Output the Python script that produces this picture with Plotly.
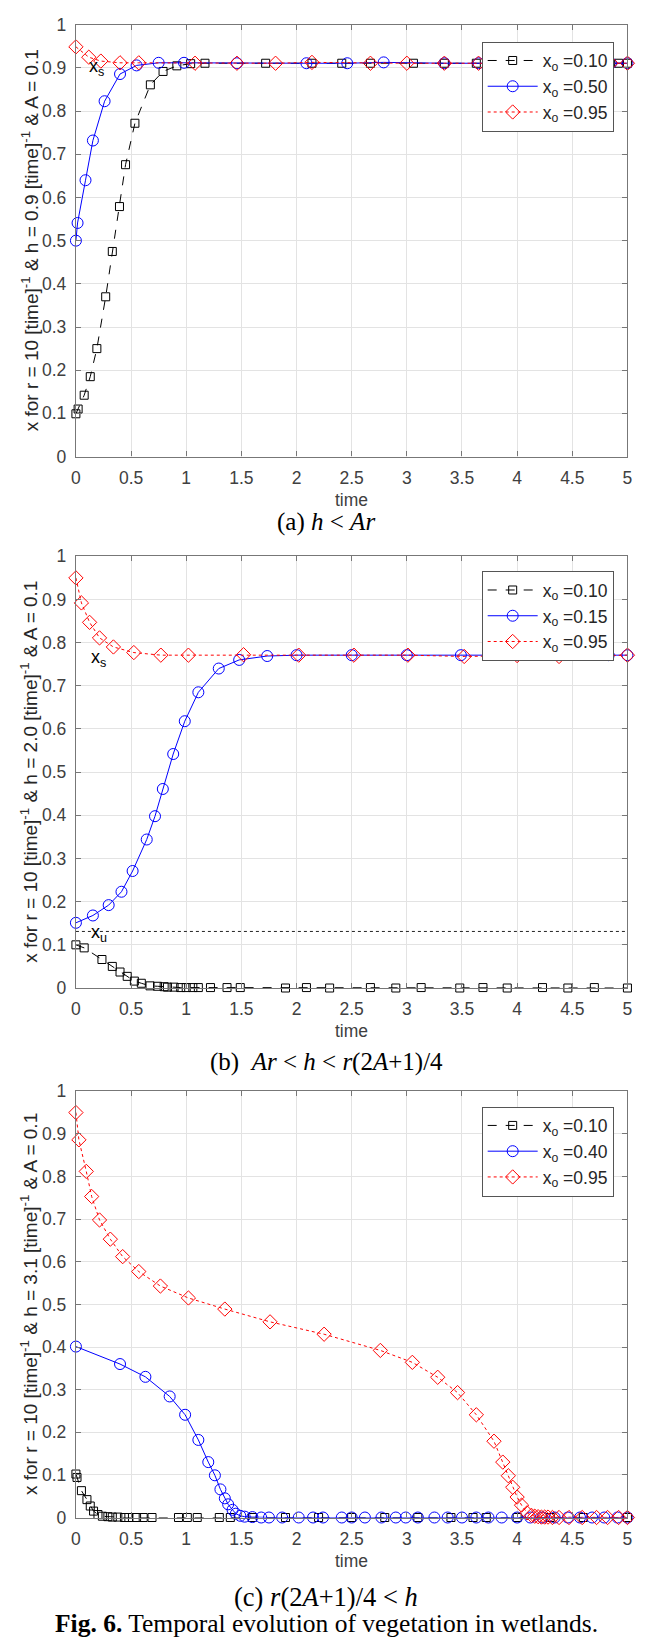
import plotly.graph_objects as go

# ---------------- data ----------------
# Panel (a): h = 0.9
a_t_010 = [0, 0.02, 0.075, 0.13, 0.19, 0.27, 0.33, 0.395, 0.45, 0.535, 0.675, 0.79, 0.915, 1.04, 1.17,
           1.72, 2.14, 2.41, 2.67, 3.06, 3.34, 3.63, 4.0, 4.4, 4.92, 5.0]
a_x_010 = [0.099, 0.11, 0.142, 0.185, 0.25, 0.37, 0.475, 0.579, 0.676, 0.772, 0.861, 0.892, 0.905, 0.910, 0.911,
           0.911, 0.911, 0.911, 0.911, 0.911, 0.911, 0.911, 0.911, 0.911, 0.911, 0.911]
a_t_050 = [0, 0.015, 0.087, 0.154, 0.26, 0.40, 0.55, 0.75, 0.98, 1.46, 2.09, 2.46, 2.79, 3.34, 3.65, 4.2, 4.85, 5.0]
a_x_050 = [0.5, 0.541, 0.64, 0.732, 0.823, 0.886, 0.906, 0.912, 0.912, 0.911, 0.911, 0.911, 0.913, 0.911, 0.911,
           0.911, 0.911, 0.911]
a_t_095 = [0, 0.117, 0.226, 0.40, 0.57, 1.08, 1.46, 1.81, 2.14, 2.67, 3.0, 3.34, 3.65, 4.2, 4.85, 5.0]
a_x_095 = [0.949, 0.925, 0.916, 0.912, 0.912, 0.911, 0.911, 0.911, 0.913, 0.911, 0.911, 0.911, 0.911, 0.911,
           0.911, 0.911]

# Panel (b): h = 2.0
b_t_010 = [0, 0.075, 0.236, 0.33, 0.40, 0.465, 0.53, 0.593, 0.672, 0.74, 0.80, 0.83, 0.89, 0.95, 1.0, 1.06,
           1.11, 1.22, 1.37, 1.49, 1.9, 2.09, 2.3, 2.67, 2.9, 3.13, 3.48, 3.69, 3.91, 4.23, 4.46, 4.7, 5.0]
b_x_010 = [0.10, 0.093, 0.066, 0.05, 0.037, 0.027, 0.016, 0.011, 0.005, 0.004, 0.003, 0.002, 0.002, 0.001,
           0.001, 0.001, 0.001, 0.001, 0.001, 0.001, 0.0, 0.001, 0.0, 0.001, 0.0, 0.001, 0.0, 0.001, 0.0, 0.001,
           0.0, 0.001, 0.0]
b_t_015 = [0, 0.154, 0.297, 0.413, 0.514, 0.642, 0.717, 0.788, 0.882, 0.987, 1.11, 1.295, 1.48, 1.734, 2.0,
           2.5, 3.0, 3.49, 4.0, 4.83, 5.0]
b_x_015 = [0.151, 0.168, 0.192, 0.223, 0.271, 0.344, 0.398, 0.461, 0.542, 0.618, 0.685, 0.740, 0.760, 0.769,
           0.771, 0.771, 0.771, 0.771, 0.771, 0.771, 0.771]
b_t_095 = [0, 0.05, 0.124, 0.214, 0.34, 0.525, 0.77, 1.02, 1.52, 2.02, 2.52, 3.01, 3.52, 4.0, 4.38, 5.0]
b_x_095 = [0.95, 0.892, 0.847, 0.811, 0.79, 0.777, 0.771, 0.771, 0.772, 0.771, 0.771, 0.771, 0.768, 0.770,
           0.768, 0.771]
b_unstable_t = [0, 5]
b_unstable_x = [0.131, 0.131]

# Panel (c): h = 3.1
c_t_010 = [0, 0.01, 0.05, 0.10, 0.13, 0.16, 0.20, 0.24, 0.29, 0.33, 0.38, 0.44, 0.48, 0.55, 0.61, 0.69, 0.93,
           1.01, 1.10, 1.30, 1.40, 1.60, 1.90, 2.20, 2.50, 2.80, 3.10, 3.40, 3.60, 3.72, 4.0, 4.3, 4.6, 5.0]
c_x_010 = [0.102, 0.094, 0.063, 0.042, 0.027, 0.015, 0.007, 0.003, 0.002, 0.001, 0.001, 0.0, 0.0, 0.0, 0.0, 0.0,
           0.0, 0.0, 0.0, 0.0, 0.0, 0.0, 0.0, 0.0, 0.0, 0.0, 0.0, 0.0, 0.0, 0.0, 0.0, 0.0, 0.0, 0.0]
c_t_040 = [0, 0.40, 0.63, 0.85, 0.99, 1.11, 1.20, 1.26, 1.31, 1.35, 1.38, 1.42, 1.45, 1.49, 1.53, 1.60, 1.68,
           1.75, 1.87, 2.02, 2.15, 2.24, 2.41, 2.50, 2.62, 2.77, 2.90, 2.99, 3.10, 3.25, 3.37, 3.50, 3.63, 3.74,
           3.86, 4.0, 4.12, 4.23, 4.34, 4.46, 4.57, 4.68, 4.79, 4.91, 5.0]
c_x_040 = [0.401, 0.36, 0.33, 0.284, 0.241, 0.182, 0.13, 0.099, 0.066, 0.045, 0.031, 0.018, 0.009, 0.004, 0.002,
           0.001, 0.0, 0.0, 0.0, 0.0, 0.0, 0.0, 0.0, 0.0, 0.0, 0.0, 0.0, 0.0, 0.0, 0.0, 0.0, 0.0, 0.0, 0.0, 0.0,
           0.0, 0.0, 0.0, 0.0, 0.0, 0.0, 0.0, 0.0, 0.0, 0.0]
c_t_095 = [0, 0.027, 0.094, 0.143, 0.214, 0.312, 0.424, 0.57, 0.766, 1.02, 1.35, 1.76, 2.25, 2.76, 3.05, 3.28,
           3.46, 3.63, 3.79, 3.87, 3.92, 3.96, 4.0, 4.04, 4.09, 4.13, 4.16, 4.19, 4.22, 4.25, 4.28, 4.32, 4.38,
           4.47, 4.59, 4.72, 4.82, 4.92, 5.0]
c_x_095 = [0.95, 0.886, 0.812, 0.753, 0.698, 0.653, 0.612, 0.577, 0.543, 0.515, 0.489, 0.459, 0.43, 0.392, 0.364,
           0.329, 0.293, 0.241, 0.179, 0.13, 0.098, 0.071, 0.048, 0.029, 0.011, 0.005, 0.003, 0.002, 0.001, 0.001,
           0.001, 0.0, 0.0, 0.0, 0.0, 0.0, 0.0, 0.0, 0.0]

legend_a = ["x<sub>o</sub> =0.10", "x<sub>o</sub> =0.50", "x<sub>o</sub> =0.95"]
legend_b = ["x<sub>o</sub> =0.10", "x<sub>o</sub> =0.15", "x<sub>o</sub> =0.95"]
legend_c = ["x<sub>o</sub> =0.10", "x<sub>o</sub> =0.40", "x<sub>o</sub> =0.95"]

xtitle = "time"
ytitles = [
    "x for r = 10 [time]<sup>-1</sup> & h = 0.9 [time]<sup>-1</sup> & A = 0.1",
    "x for r = 10 [time]<sup>-1</sup> & h = 2.0 [time]<sup>-1</sup> & A = 0.1",
    "x for r = 10 [time]<sup>-1</sup> & h = 3.1 [time]<sup>-1</sup> & A = 0.1",
]
captions = [
    "(a) <i>h</i> &lt; <i>Ar</i>",
    "(b)  <i>Ar</i> &lt; <i>h</i> &lt; <i>r</i>(2<i>A</i>+1)/4",
    "(c) <i>r</i>(2<i>A</i>+1)/4 &lt; <i>h</i>",
]
fig_caption = "<b>Fig. 6.</b> Temporal evolution of vegetation in wetlands."

# ---------------- styling ----------------
W, H = 661, 1651
SANS = "Liberation Sans, Arial, sans-serif"
SERIF = "Liberation Serif, Times New Roman, serif"
BLACK, BLUE, RED = "#000000", "#0000ff", "#ff0000"
AXC = "#777777"
GRID = "#e3e3e3"
TXT = "#404040"
TICK_FS = 17.5
TITLE_FS = 19

x0px, x1px = 72, 632
panels_px = [(15, 452), (553, 990), (1094.5, 1526)]
legend_top_px = [32, 568, 1110]
legend_left_px = 484


def py(p):
    return 1 - p / H


fig = go.Figure()

series_sets = [
    (a_t_010, a_x_010, a_t_050, a_x_050, a_t_095, a_x_095, legend_a),
    (b_t_010, b_x_010, b_t_015, b_x_015, b_t_095, b_x_095, legend_b),
    (c_t_010, c_x_010, c_t_040, c_x_040, c_t_095, c_x_095, legend_c),
]

for i, (t1, v1, t2, v2, t3, v3, names) in enumerate(series_sets):
    xa = "x" if i == 0 else f"x{i+1}"
    ya = "y" if i == 0 else f"y{i+1}"
    lg = "legend" if i == 0 else f"legend{i+1}"
    if i == 1:
        fig.add_trace(go.Scatter(x=b_unstable_t, y=b_unstable_x, mode="lines", xaxis=xa, yaxis=ya,
                                 line=dict(color="#222222", width=1, dash="dot"), showlegend=False,
                                 hoverinfo="skip"))
    fig.add_trace(go.Scatter(x=t1, y=v1, mode="lines+markers", name=names[0], xaxis=xa, yaxis=ya, legend=lg,
                             line=dict(color=BLACK, width=1, dash="dash"),
                             marker=dict(symbol="square-open", size=8, color=BLACK, line=dict(width=1, color=BLACK)),
                             cliponaxis=False))
    fig.add_trace(go.Scatter(x=t2, y=v2, mode="lines+markers", name=names[1], xaxis=xa, yaxis=ya, legend=lg,
                             line=dict(color=BLUE, width=1),
                             marker=dict(symbol="circle-open", size=11, color=BLUE, line=dict(width=1, color=BLUE)),
                             cliponaxis=False))
    fig.add_trace(go.Scatter(x=t3, y=v3, mode="lines+markers", name=names[2], xaxis=xa, yaxis=ya, legend=lg,
                             line=dict(color=RED, width=1, dash="dot"),
                             marker=dict(symbol="diamond-open", size=11, color=RED, line=dict(width=1, color=RED)),
                             cliponaxis=False))

layout = dict(width=W, height=H, margin=dict(l=0, r=0, t=0, b=0), autosize=False,
              plot_bgcolor="white", paper_bgcolor="white", showlegend=True)

for i, (top, bot) in enumerate(panels_px):
    sfx = "" if i == 0 else str(i + 1)
    layout["xaxis" + sfx] = dict(
        domain=[x0px / W, x1px / W], anchor="y" + sfx, range=[0, 5], tick0=0, dtick=0.5,
        showgrid=True, gridcolor=GRID, gridwidth=1, zeroline=False,
        showline=True, linecolor=AXC, linewidth=1.3, mirror="ticks",
        ticks="inside", ticklen=5, tickcolor=AXC, tickwidth=1, ticklabelstandoff=5,
        tickfont=dict(family=SANS, size=TICK_FS, color=TXT),
    )
    layout["yaxis" + sfx] = dict(
        domain=[py(bot), py(top)], anchor="x" + sfx, range=[0, 1], tick0=0, dtick=0.1,
        showgrid=True, gridcolor=GRID, gridwidth=1, zeroline=False,
        showline=True, linecolor=AXC, linewidth=1.3, mirror="ticks",
        ticks="inside", ticklen=5, tickcolor=AXC, tickwidth=1, ticklabelstandoff=5,
        tickfont=dict(family=SANS, size=TICK_FS, color=TXT),
    )
    layout["legend" if i == 0 else f"legend{i+1}"] = dict(
        x=legend_left_px / W, y=py(legend_top_px[i]), xanchor="left", yanchor="top",
        bgcolor="white", bordercolor="#555555", borderwidth=1,
        font=dict(family=SANS, size=17.5, color="#262626"), itemwidth=50,
    )

fig.update_layout(**layout)

annotations = []
# axis titles as annotations placed beside each panel
for i, (top, bot) in enumerate(panels_px):
    annotations.append(dict(xref="paper", yref="paper", x=25 / W, y=py((top + bot) / 2), text=ytitles[i],
                            textangle=-90, showarrow=False, xanchor="center", yanchor="middle",
                            font=dict(family=SANS, size=TITLE_FS, color="#262626")))
    annotations.append(dict(xref="paper", yref="paper", x=(x0px + x1px) / 2 / W, y=py(bot + 44), text=xtitle,
                            showarrow=False, xanchor="center", yanchor="middle",
                            font=dict(family=SANS, size=TICK_FS, color=TXT)))

# equilibrium labels
for xr, yr, t, v, txt in [("x", "y", 0.143, 0.908, "x<sub>s</sub>"),
                          ("x2", "y2", 0.16, 0.771, "x<sub>s</sub>"),
                          ("x2", "y2", 0.16, 0.133, "x<sub>u</sub>")]:
    annotations.append(dict(xref=xr, yref=yr, x=t, y=v, text=txt, showarrow=False,
                            xanchor="left", yanchor="middle", xshift=-5, yshift=-3,
                            font=dict(family=SANS, size=18, color="black")))

cap_y = [518, 1065, 1606]
cap_fs = [25, 25, 26.5]
for i, cy in enumerate(cap_y):
    annotations.append(dict(xref="paper", yref="paper", x=326 / W, y=py(cy), text=captions[i], showarrow=False,
                            xanchor="center", yanchor="middle",
                            font=dict(family=SERIF, size=cap_fs[i], color="black")))
annotations.append(dict(xref="paper", yref="paper", x=326 / W, y=py(1633), text=fig_caption, showarrow=False,
                        xanchor="center", yanchor="middle", font=dict(family=SERIF, size=25.5, color="black")))
fig.update_layout(annotations=annotations)

fig.write_html("out.html",
               config={"displayModeBar": False},
               post_script="document.body.style.margin='0';document.body.style.padding='0';"
                           "document.documentElement.style.overflow='hidden';")
